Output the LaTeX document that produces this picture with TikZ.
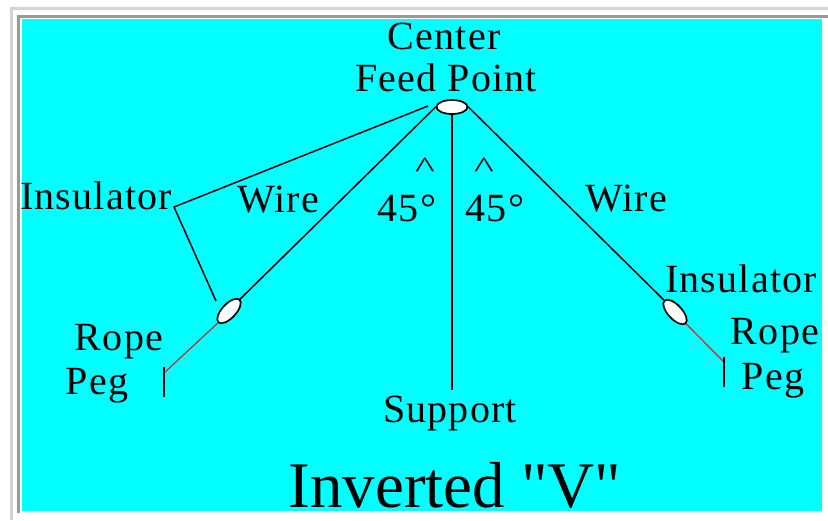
\documentclass[tikz,border=0pt]{standalone}
\usepackage{fontspec}
\setmainfont{Liberation Serif}
\newfontfamily\plainserif{Liberation Serif}
\usetikzlibrary{
  shapes.geometric
}
\definecolor{skycyan}{HTML}{00FFFF}
\definecolor{framegray}{HTML}{999999}
\definecolor{edgegray}{HTML}{D4D4D4}
\definecolor{ropered}{HTML}{C03020}

\begin{document}
\begin{tikzpicture}[
  x=1pt, y=-1pt,
  insulator/.style={
    draw, ellipse, fill=white, line width=1.7pt,
    inner sep=0pt, minimum width=31pt, minimum height=14pt,
  },
  wire/.style={line width=1.5pt},
  rope/.style={line width=1.2pt, draw=ropered},
  label/.style={font=\fontsize{40}{40}\selectfont\addfontfeature{LetterSpace=3}, inner sep=0pt},
  caret/.style={font=\fontsize{30}{30}\selectfont, inner sep=0pt, xscale=1.4, transform shape},
  title/.style={font=\plainserif\fontsize{65}{65}\selectfont, inner sep=0pt},
]

% Page and frame
\useasboundingbox (0,0) rectangle (828,520);
\fill[white] (0,0) rectangle (828,520);
\draw[edgegray, line width=3pt] (828,8) -- (11,8) -- (11,520);
\draw[framegray, line width=3pt] (828,16.5) -- (18.5,16.5) -- (18.5,513);
\fill[skycyan] (22,19) rectangle (822,511);

% Fixed points
\coordinate (corner) at (174,207);
\coordinate (pointfeed) at (428,106);
\coordinate (pointleft) at (216,301);
\coordinate (pegltop) at (164,367);
\coordinate (peglbot) at (164,397);
\coordinate (pegltie) at (164,373);
\coordinate (pegrtop) at (724,357);
\coordinate (pegrbot) at (724,387);
\coordinate (pegrtie) at (724,362);
\coordinate (supportend) at (452,390);

% Insulators
\node[insulator] (feed) at (452,107) {};
\node[insulator, rotate=47] (insleft) at (229,311) {};
\node[insulator, rotate=-47] (insright) at (675,312) {};

% Wires and support
\draw[wire] (feed.west) -- (insleft.east);
\draw[wire] (feed.east) -- (insright.west);
\draw[wire] (feed.south) -- (supportend);
\draw[wire] (pointfeed) -- (corner) -- (pointleft);

% Ropes and pegs
\draw[rope] (insleft.west) -- (pegltie);
\draw[rope] (insright.east) -- (pegrtie);
\draw[wire] (pegltop) -- (peglbot);
\draw[wire] (pegrtop) -- (pegrbot);

% Labels
\node[label] (center) at (444,36) {Center};
\node[label] (feedpoint) at (446,78) {Feed Point};
\node[label] (inslabl) at (96,196) {Insulator};
\node[label] (wirel) at (278,200) {Wire};
\node[caret] (caretl) at (425,168) {\textasciicircum};
\node[caret] (caretr) at (484,168) {\textasciicircum};
\node[label] (anglel) at (407,208) {45°};
\node[label] (angler) at (495,208) {45°};
\node[label] (wirer) at (626,199) {Wire};
\node[label] (inslabr) at (741,279) {Insulator};
\node[label] (ropel) at (119,342) {Rope};
\node[label] (pegl) at (97,386) {Peg};
\node[label] (roper) at (775,336) {Rope};
\node[label] (pegr) at (773,381) {Peg};
\node[label] (support) at (450,414) {Support};
\node[title] (heading) at (455,485) {Inverted "V"};

\end{tikzpicture}
\end{document}
